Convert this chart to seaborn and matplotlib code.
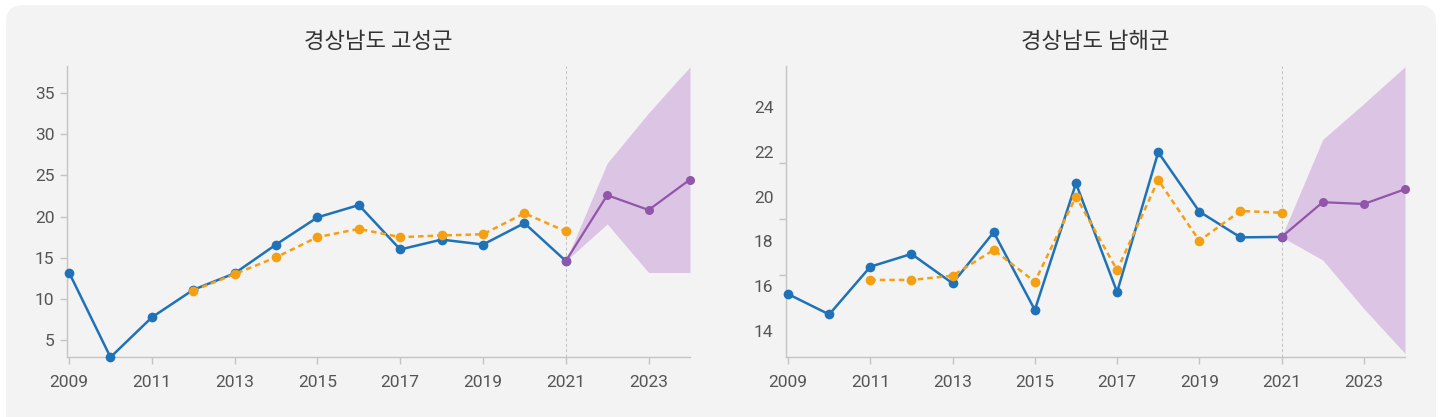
import numpy as np
import pandas as pd
import seaborn as sns
import matplotlib.pyplot as plt
from matplotlib.patches import FancyBboxPatch

# ---- data ----
years = list(range(2009, 2022))
fc_years = [2021, 2022, 2023, 2024]

goseong_actual = [13.2, 2.9, 7.75, 11.1, 13.1, 16.6, 19.9, 21.4, 16.0, 17.2, 16.6, 19.2, 14.6]
goseong_fit_years = list(range(2012, 2022))
goseong_fit = [11.0, 13.0, 15.05, 17.5, 18.5, 17.5, 17.7, 17.85, 20.4, 18.2]
goseong_fc = [14.6, 22.6, 20.8, 24.5]
goseong_lo = [14.6, 19.1, 13.2, 13.2]
goseong_hi = [14.6, 26.5, 32.6, 38.2]

namhae_actual = [15.65, 14.74, 16.87, 17.44, 16.13, 18.41, 14.94, 20.59, 15.74, 21.98, 19.33, 18.18, 18.2]
namhae_fit_years = list(range(2011, 2022))
namhae_fit = [16.28, 16.28, 16.47, 17.62, 16.2, 20.0, 16.72, 20.74, 18.03, 19.36, 19.28]
namhae_fc = [18.2, 19.75, 19.67, 20.33]
namhae_lo = [18.2, 17.17, 15.0, 13.0]
namhae_hi = [18.2, 22.55, 24.15, 25.8]

titles = ["경상남도 고성군", "경상남도 남해군"]
xticks = [2009, 2011, 2013, 2015, 2017, 2019, 2021, 2023]

BLUE = "#1f72b8"
ORANGE = "#f4a012"
PURPLE = "#9156aa"
BAND = "#dcc4e4"
CARD = "#f3f3f3"
TEXT = "#555555"

sns.set_style("ticks")
plt.rcParams["font.family"] = ["Roboto", "DejaVu Sans"]

fig = plt.figure(figsize=(14.4, 4.17), dpi=100)
fig.patch.set_facecolor("white")
card = FancyBboxPatch((6 / 1440, -0.05), 1430 / 1440, 1.05 - 5 / 417,
                      boxstyle="round,pad=0,rounding_size=0.012",
                      transform=fig.transFigure, facecolor=CARD,
                      edgecolor="none", zorder=-10, mutation_aspect=1440 / 417)
fig.patches.append(card)

ax1 = fig.add_axes([67 / 1440, 1 - 357 / 417, (690 - 67) / 1440, (357 - 66) / 417])
ax2 = fig.add_axes([786 / 1440, 1 - 357 / 417, (1405 - 786) / 1440, (357 - 66) / 417])

panels = [
    (ax1, goseong_actual, goseong_fit_years, goseong_fit, goseong_fc, goseong_lo, goseong_hi, (2.93, 38.3)),
    (ax2, namhae_actual, namhae_fit_years, namhae_fit, namhae_fc, namhae_lo, namhae_hi, (12.84, 25.83)),
]

for i, (ax, actual, fy, fit, fc, lo, hi, ylim) in enumerate(panels):
    ax.set_facecolor(CARD)
    ax.fill_between(fc_years, lo, hi, color=BAND, linewidth=0, zorder=1)
    ax.axvline(2021, color="#c0c0c0", linestyle=(0, (3, 2.5)), linewidth=0.7, zorder=1)

    df_a = pd.DataFrame({"year": years, "value": actual})
    df_f = pd.DataFrame({"year": fy, "value": fit})
    df_p = pd.DataFrame({"year": fc_years, "value": fc})

    sns.lineplot(data=df_a, x="year", y="value", ax=ax, color=BLUE, linewidth=1.8,
                 marker="o", markersize=7, markeredgewidth=0, zorder=3)
    sns.lineplot(data=df_f, x="year", y="value", ax=ax, color=ORANGE, linewidth=1.8,
                 linestyle=(0, (2.2, 1.6)), marker="o", markersize=7,
                 markeredgewidth=0, zorder=4)
    sns.lineplot(data=df_p, x="year", y="value", ax=ax, color=PURPLE, linewidth=1.6,
                 marker="o", markersize=6.5, markeredgewidth=0, zorder=5)
    for ln in ax.lines:
        ln.set_clip_on(False)

    ax.set_xlim(2008.95, 2024.0)
    ax.set_ylim(*ylim)
    ax.set_xticks(xticks)
    ax.set_xticklabels([str(x) for x in xticks])
    ax.set_xlabel("")
    ax.set_ylabel("")
    ax.set_title(titles[i], family=["Noto Sans CJK KR", "DejaVu Sans"], fontsize=16,
                 color="#333333", pad=13)

    for s in ["top", "right"]:
        ax.spines[s].set_visible(False)
    for s in ["left", "bottom"]:
        ax.spines[s].set_color("#c4c4c4")
        ax.spines[s].set_linewidth(1.0)
    ax.tick_params(axis="both", colors="#c4c4c4", labelcolor=TEXT, labelsize=12.5,
                   length=5, width=1.0)
    ax.tick_params(axis="x", pad=8)
    ax.tick_params(axis="y", pad=4)

ax1.set_yticks([5, 10, 15, 20, 25, 30, 35])

# right panel: labels and tick marks sit on different grids in the reference
ax2.set_yticks([14, 16, 18, 20, 22, 24])
ax2.tick_params(axis="y", which="major", length=0, pad=9)
ax2.set_yticks([14, 16.5, 19, 21.5, 24], minor=True)
ax2.tick_params(axis="y", which="minor", length=5, width=1.0, colors="#c4c4c4")

fig.savefig("out.png", dpi=100, facecolor="white")
